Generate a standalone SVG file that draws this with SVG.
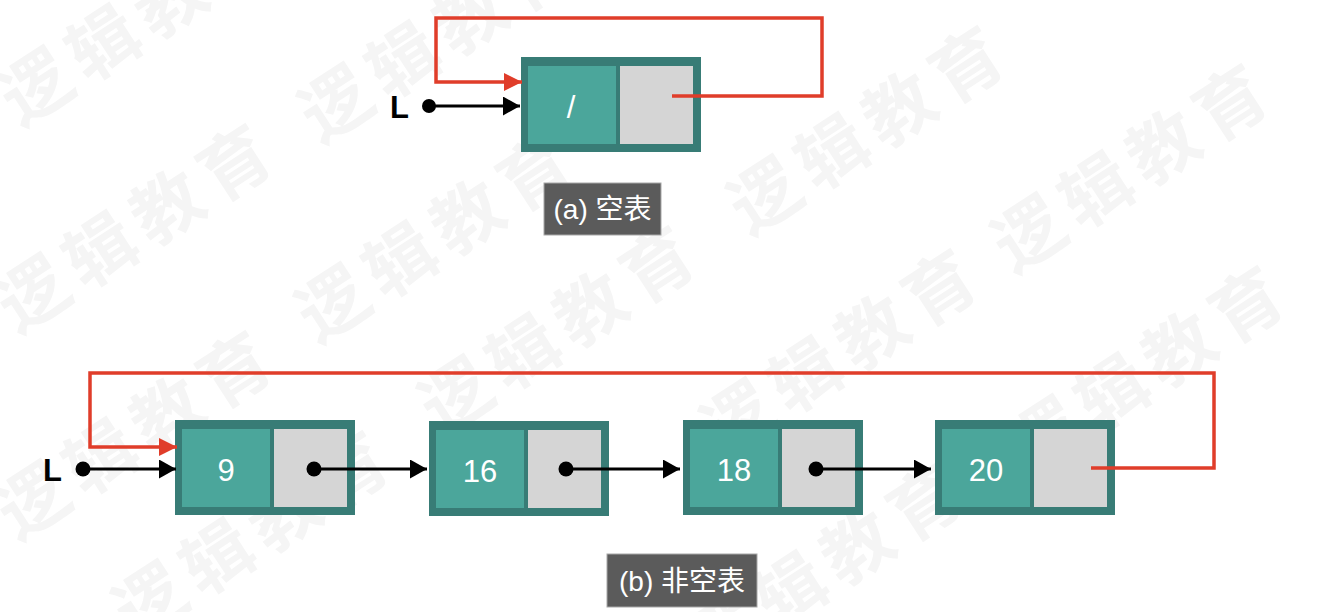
<svg xmlns="http://www.w3.org/2000/svg" width="1336" height="612" viewBox="0 0 1336 612">
<style>
.wm{font-family:"Noto Sans CJK SC","Noto Sans CJK JP",sans-serif;font-weight:bold;font-size:70px;fill:#f5f5f5;letter-spacing:10px;dominant-baseline:central}
.frame{fill:#387c76}
.data{fill:#4ba69b}
.next{fill:#d5d5d5}
.val{font-family:"Liberation Sans",Arial,sans-serif;font-size:31px;fill:#ffffff;text-anchor:middle}
.ptr{font-family:"Liberation Sans",Arial,sans-serif;font-weight:bold;font-size:31px;fill:#000000}
.cap{fill:#5b5b5b;stroke:#a8a8a8;stroke-width:1}
.capt{font-family:"Liberation Sans","Noto Sans CJK SC",sans-serif;font-size:28px;fill:#ffffff;text-anchor:middle}
.blk{fill:none;stroke:#000000;stroke-width:3;marker-end:url(#ab)}
.red{fill:none;stroke:#e03d2a;stroke-width:3.5;stroke-linejoin:miter;marker-end:url(#ar)}
.redl{fill:none;stroke:#e03d2a;stroke-width:3.5}
.dot{fill:#000000}
</style>
<defs>
<marker id="ab" viewBox="0 0 17 19" refX="17" refY="9.5" markerWidth="17" markerHeight="19" markerUnits="userSpaceOnUse" orient="auto"><path d="M0,0 L17,9.5 L0,19 z" fill="#000000"/></marker>
<marker id="ar" viewBox="0 0 18 18" refX="18" refY="9" markerWidth="18" markerHeight="18" markerUnits="userSpaceOnUse" orient="auto"><path d="M0,0 L18,9 L0,18 z" fill="#e03d2a"/></marker>
</defs>
<rect x="0" y="0" width="1336" height="612" fill="#ffffff"/>
<g id="watermark">
<text class="wm" transform="translate(4,102) rotate(-33)">逻辑教育</text>
<text class="wm" transform="translate(304,119) rotate(-33)">逻辑教育</text>
<text class="wm" transform="translate(1,309) rotate(-33)">逻辑教育</text>
<text class="wm" transform="translate(301,319) rotate(-33)">逻辑教育</text>
<text class="wm" transform="translate(424,411) rotate(-33)">逻辑教育</text>
<text class="wm" transform="translate(733,211) rotate(-33)">逻辑教育</text>
<text class="wm" transform="translate(997,249) rotate(-33)">逻辑教育</text>
<text class="wm" transform="translate(706,434) rotate(-33)">逻辑教育</text>
<text class="wm" transform="translate(1013,451) rotate(-33)">逻辑教育</text>
<text class="wm" transform="translate(1,516) rotate(-33)">逻辑教育</text>
<text class="wm" transform="translate(118,616) rotate(-33)">逻辑教育</text>
<text class="wm" transform="translate(691,649) rotate(-33)">逻辑教育</text>
</g>
<g id="node-a">
<rect class="frame" x="521" y="57" width="180" height="95"/>
<rect class="data" x="528" y="66" width="88" height="78"/>
<rect class="next" x="620" y="66" width="73" height="78"/>
<text class="val" x="571" y="118">/</text>
</g>
<g id="ptr-a">
<text class="ptr" x="390" y="118">L</text>
<circle class="dot" cx="429" cy="106" r="7"/>
</g>
<g id="caption-a">
<rect class="cap" x="544" y="183" width="117" height="52"/>
<text class="capt" x="602.5" y="219">(a) 空表</text>
</g>
<g id="node-9">
<rect class="frame" x="175" y="420" width="180" height="95"/>
<rect class="data" x="182" y="429" width="88" height="78"/>
<rect class="next" x="274" y="429" width="73" height="78"/>
<text class="val" x="226" y="481">9</text>
</g>
<g id="node-16">
<rect class="frame" x="429" y="421" width="180" height="95"/>
<rect class="data" x="436" y="430" width="88" height="78"/>
<rect class="next" x="528" y="430" width="73" height="78"/>
<text class="val" x="480" y="482">16</text>
</g>
<g id="node-18">
<rect class="frame" x="683" y="420" width="180" height="95"/>
<rect class="data" x="690" y="429" width="88" height="78"/>
<rect class="next" x="782" y="429" width="73" height="78"/>
<text class="val" x="734" y="481">18</text>
</g>
<g id="node-20">
<rect class="frame" x="935" y="420" width="180" height="95"/>
<rect class="data" x="942" y="429" width="88" height="78"/>
<rect class="next" x="1034" y="429" width="73" height="78"/>
<text class="val" x="986" y="481">20</text>
</g>
<g id="ptr-b">
<text class="ptr" x="43" y="481">L</text>
</g>
<g id="caption-b">
<rect class="cap" x="607" y="554" width="150" height="53"/>
<text class="capt" x="682" y="591">(b) 非空表</text>
</g>
<g id="connectors">
<path class="blk" d="M429,106 H520"/>
<path class="red" d="M672,96 H822 V18 H436 V82 H522"/>
<path class="blk" d="M83,469 H176"/>
<circle class="dot" cx="83" cy="469" r="7.5"/>
<path class="red" d="M1091,468 H1214 V373 H90 V447 H177"/>
<path class="blk" d="M314,469 H427"/>
<circle class="dot" cx="314" cy="469" r="7.5"/>
<path class="blk" d="M566,469 H680"/>
<circle class="dot" cx="566" cy="469" r="7.5"/>
<path class="blk" d="M816,469 H931"/>
<circle class="dot" cx="816" cy="469" r="7.5"/>
</g>
</svg>
